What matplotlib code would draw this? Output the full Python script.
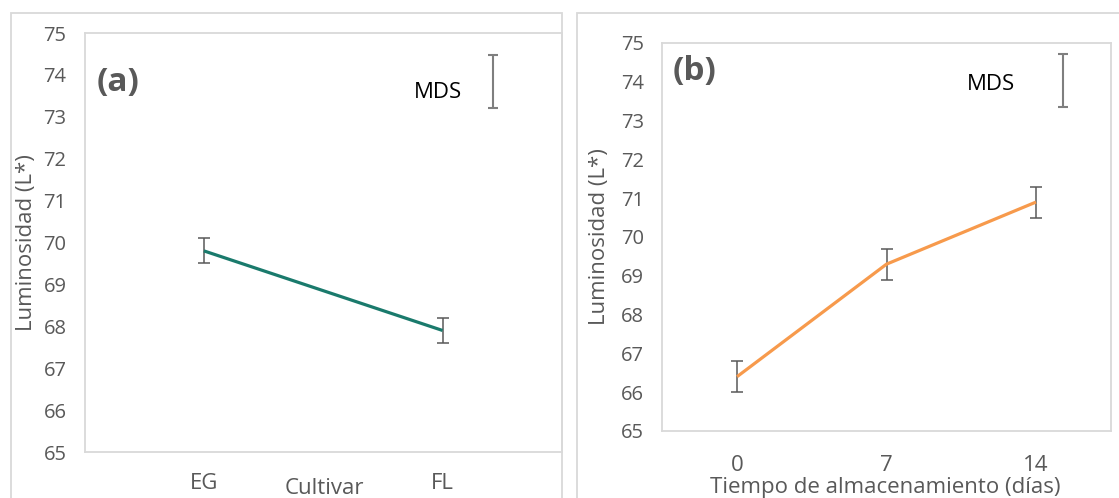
import matplotlib
matplotlib.use("Agg")
import matplotlib.pyplot as plt
from matplotlib.patches import Rectangle

plt.rcParams['font.family'] = ['Open Sans', 'DejaVu Sans']

# ---- data ----
cultivars = ["EG", "FL"]
lum_cultivar = [69.8, 67.9]
err_cultivar = [0.3, 0.3]

days = ["0", "7", "14"]
lum_days = [66.4, 69.3, 70.9]
err_days = [0.4, 0.4, 0.4]

# least significant difference bars (full length, centre)
mds_cultivar = 1.26
mds_cultivar_center = 73.85
mds_days = 1.36
mds_days_center = 74.04

yticks = [65, 66, 67, 68, 69, 70, 71, 72, 73, 74, 75]

W, H = 1119, 498
GRAY = "#595959"
BORDER = "#d9d9d9"

fig = plt.figure(figsize=(W / 100, H / 100), dpi=100)
fig.patch.set_facecolor("white")


def frac_box(x0, y0, x1, y1):
    return [x0 / W, 1 - y1 / H, (x1 - x0) / W, (y1 - y0) / H]


# chart frames
for (x0, y0, x1, y1) in [(11, 13, 562, 505), (577, 13, 1130, 505)]:
    fig.patches.append(Rectangle((x0 / W, 1 - y1 / H), (x1 - x0) / W, (y1 - y0) / H,
                                 transform=fig.transFigure, fill=False,
                                 edgecolor=BORDER, linewidth=1.3, zorder=0))

ax1 = fig.add_axes(frac_box(84.5, 33, 562, 452))
ax2 = fig.add_axes(frac_box(662.3, 43, 1110.7, 431))


def style(ax, xpad):
    for s in ax.spines.values():
        s.set_color(BORDER)
        s.set_linewidth(1.3)
    ax.set_ylim(65, 75)
    ax.set_yticks(yticks)
    ax.tick_params(axis='y', length=0, pad=13, labelsize=14.5, labelcolor=GRAY)
    ax.tick_params(axis='x', length=0, pad=xpad, labelsize=16, labelcolor=GRAY)


# (a) cultivar
x1 = list(range(len(cultivars)))
ax1.plot(x1, lum_cultivar, color="#1a7a6c", linewidth=2.3, solid_capstyle='butt', zorder=3)
ax1.errorbar(x1, lum_cultivar, yerr=err_cultivar, fmt='none', ecolor=GRAY,
             elinewidth=1.1, capsize=4.2, capthick=1.1, zorder=2)
ax1.set_xlim(-0.5, 1.5)
ax1.set_xticks(x1)
ax1.set_xticklabels(cultivars)
style(ax1, 15)
ax1.errorbar([1.213], [mds_cultivar_center], yerr=[mds_cultivar / 2], fmt='none',
             ecolor="#7f7f7f", elinewidth=1.5, capsize=3.5, capthick=1.5)
ax1.text(0.98, 73.57, "MDS", ha='center', va='center', fontsize=16, color="black")
ax1.text(-0.45, 73.83, "(a)", ha='left', va='center', fontsize=24,
         fontweight='bold', color=GRAY)

# (b) storage time
x2 = list(range(len(days)))
ax2.plot(x2, lum_days, color="#f79a4c", linewidth=2.3, solid_capstyle='butt', zorder=3)
ax2.errorbar(x2, lum_days, yerr=err_days, fmt='none', ecolor=GRAY,
             elinewidth=1.1, capsize=4.2, capthick=1.1, zorder=2)
ax2.set_xlim(-0.5, 2.5)
ax2.set_xticks(x2)
ax2.set_xticklabels(days)
style(ax2, 17)
ax2.errorbar([2.18], [mds_days_center], yerr=[mds_days / 2], fmt='none',
             ecolor="#7f7f7f", elinewidth=1.5, capsize=3.5, capthick=1.5)
ax2.text(1.70, 73.93, "MDS", ha='center', va='center', fontsize=16, color="black")
ax2.text(-0.433, 74.26, "(b)", ha='left', va='center', fontsize=24,
         fontweight='bold', color=GRAY)

# axis titles
fig.text(27 / W, 1 - 242.5 / H, "Luminosidad (L*)", rotation=90, ha='center',
         va='center', fontsize=16, color=GRAY)
fig.text(599 / W, 1 - 237 / H, "Luminosidad (L*)", rotation=90, ha='center',
         va='center', fontsize=16, color=GRAY)
fig.text(324 / W, 1 - 488 / H, "Cultivar", ha='center', va='center',
         fontsize=16, color=GRAY)
fig.text(885.7 / W, 1 - 487 / H, "Tiempo de almacenamiento (días)", ha='center',
         va='center', fontsize=16, color=GRAY)

fig.savefig("out.png", dpi=100, facecolor="white")
